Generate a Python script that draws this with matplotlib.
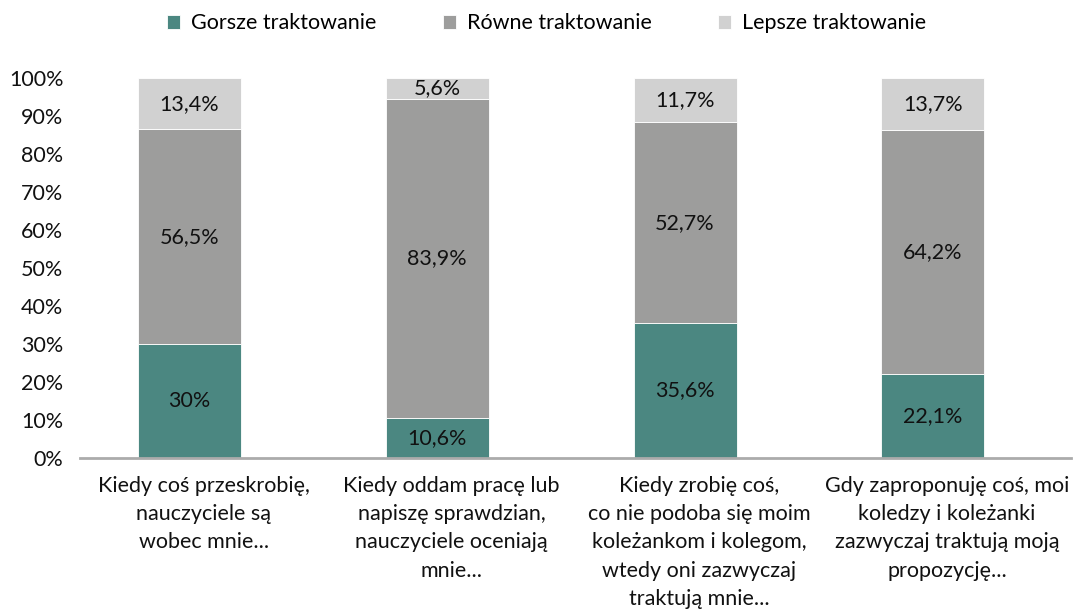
import matplotlib.pyplot as plt
import numpy as np

plt.rcParams['font.family'] = ['Lato', 'DejaVu Sans']

categories = [
    "Kiedy coś przeskrobię,\nnauczyciele są\nwobec mnie...",
    "Kiedy oddam pracę lub\nnapiszę sprawdzian,\nnauczyciele oceniają\nmnie...",
    "Kiedy zrobię coś,\nco nie podoba się moim\nkoleżankom i kolegom,\nwtedy oni zazwyczaj\ntraktują mnie...",
    "Gdy zaproponuję coś, moi\nkoledzy i koleżanki\nzazwyczaj traktują moją\npropozycję...",
]
series_names = ["Gorsze traktowanie", "Równe traktowanie", "Lepsze traktowanie"]
gorsze = [30.0, 10.6, 35.6, 22.1]
rowne = [56.5, 83.9, 52.7, 64.2]
lepsze = [13.4, 5.6, 11.7, 13.7]

colors = ['#4b8781', '#9d9d9c', '#d1d1d1']
fs = 15.5

fig = plt.figure(figsize=(10.8, 6.12), dpi=100)
ax = fig.add_axes([0.0741, 0.2516, 0.9176, 0.6209])

x = np.arange(len(categories))
xb = x - 0.058
width = 0.416

bottom = np.zeros(len(categories))
for name, vals, col in zip(series_names, [gorsze, rowne, lepsze], colors):
    vals = np.array(vals)
    ax.bar(xb, vals, width, bottom=bottom, color=col, label=name,
           edgecolor='white', linewidth=0.6)
    for xi, b, v in zip(xb, bottom, vals):
        txt = f"{v:g}".replace('.', ',') + "%"
        ax.text(xi, b + v / 2, txt, ha='center', va='center',
                fontsize=fs, color='#111111')
    bottom += vals

ax.set_xlim(-0.5, 3.5)
ax.set_ylim(0, 100)
ax.set_yticks(np.arange(0, 101, 10))
ax.set_yticklabels([f"{t}%" for t in range(0, 101, 10)], fontsize=fs, color='#111111')
ax.tick_params(axis='y', length=0, pad=12)
ax.set_xticks([])
for s in ['top', 'right', 'left']:
    ax.spines[s].set_visible(False)
ax.spines['bottom'].set_color('#ababab')
ax.spines['bottom'].set_linewidth(2)

for xi, lab in zip(x, categories):
    ax.text(xi, -4.6, lab, ha='center', va='top', fontsize=fs,
            linespacing=1.53, color='#111111', transform=ax.transData)

fig.legend(loc='center', bbox_to_anchor=(0.506, 0.962), ncol=3, frameon=False,
           fontsize=fs, handlelength=0.6, handleheight=0.6,
           handletextpad=0.5, columnspacing=3.1)

plt.savefig("out.png", dpi=100)
plt.close()
